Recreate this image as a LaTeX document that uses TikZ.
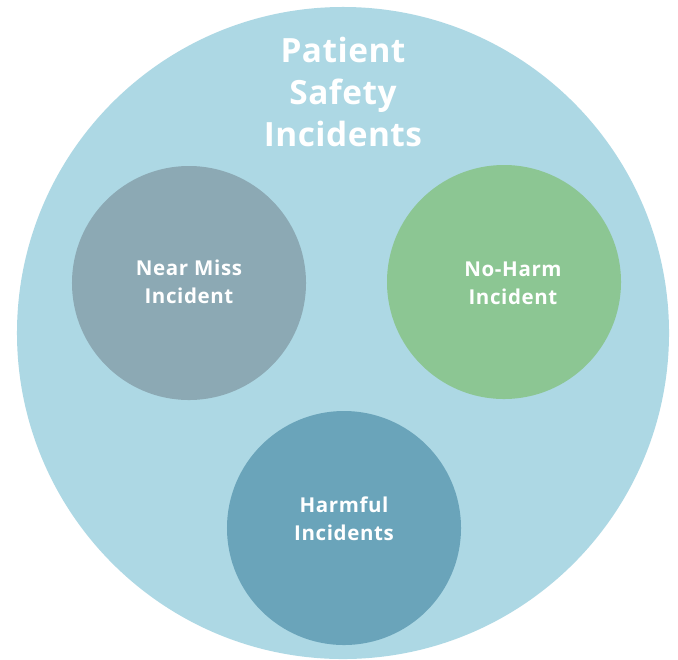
\documentclass[tikz,border=0pt]{standalone}
\usepackage{fontspec}
\setmainfont{Open Sans}
\usetikzlibrary{positioning}

\definecolor{outerblue}{HTML}{ADD8E4}
\definecolor{nearmiss}{HTML}{8CA9B4}
\definecolor{noharm}{HTML}{8CC693}
\definecolor{harmful}{HTML}{6AA4BA}

\tikzset{
    incident/.style={circle, minimum size=7.02cm, inner sep=0pt},
    caption/.style={text=white, font=\bfseries\fontsize{17.5}{23.8}\selectfont\addfontfeatures{LetterSpace=3}, align=center},
}

\begin{document}
\begin{tikzpicture}[x=0.03cm, y=-0.03cm]
    \useasboundingbox[fill=white] (0,0) rectangle (678,659);

    % outer set
    \node[circle, fill=outerblue, minimum size=19.56cm, inner sep=0pt] (safety) at (343,333) {};
    \node[text=white, font=\bfseries\fontsize{28.5}{35.7}\selectfont\addfontfeatures{LetterSpace=1.5}, align=center] (title) at (343,92) {Patient\\Safety\\Incidents};

    % the three kinds of incident
    \node[incident, fill=nearmiss] (nearmiss) at (189,283) {};
    \node[incident, fill=noharm] (noharm) at (504,282) {};
    \node[incident, fill=harmful] (harmful) at (344,528) {};

    \node[caption] (nearmisstext) at (189,282) {Near Miss\\Incident};
    \node[caption] (noharmtext) at (513,283) {No-Harm\\Incident};
    \node[caption] (harmfultext) at (344,519) {Harmful\\Incidents};
\end{tikzpicture}
\end{document}
